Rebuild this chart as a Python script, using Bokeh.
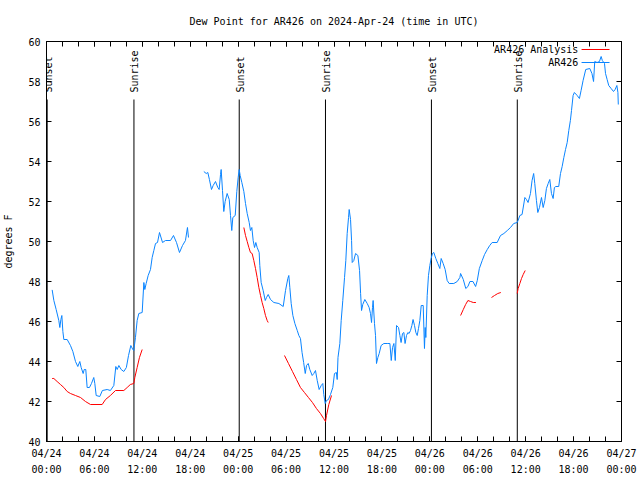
import numpy as np
import pandas as pd
from math import pi
from bokeh.plotting import figure
from bokeh.models import (FixedTicker, DatetimeTickFormatter, LinearAxis, DatetimeAxis,
                          Range1d)
from bokeh.embed import file_html
from bokeh.resources import INLINE
from bokeh.core.properties import value

# ---------------- data ----------------
start_time = "2024-04-24 00:00"
end_time = "2024-04-27 00:00"

# AR426 observations: hours after start, dew point (F); NaN = gap
ar426_hours = [
    0.71, 0.92, 1.21, 1.54, 1.67, 1.8, 1.92, 2.05, 2.17, 2.59, 3.0, 3.3, 3.63, 3.92, 4.17,
    4.34, 4.59, 4.72, 4.92, 5.09, 5.38, 5.63, 5.92, 6.05, 6.22, 6.67, 7.0, 7.6, 8.0, 8.43,
    8.68, 8.85, 9.06, 9.35, 9.68, 10.0, 10.27, 10.56, 10.81, 10.93, 11.14, 11.35, 11.56,
    11.98, 12.19, 12.31, 12.48, 12.73, 13.02, 13.23, 13.44, 13.65, 13.9, 14.15, 14.53,
    14.9, 15.53, 15.9, 16.28, 16.65, 17.03, 17.4, 17.65, 17.78,
    18.7,
    19.7, 20.0, 20.2, 20.4, 20.66, 20.87, 21.16, 21.45, 21.62, 21.79, 21.87, 22.04, 22.2,
    22.37, 22.62, 22.88, 23.04, 23.2, 23.33, 23.63, 23.83, 24.0, 24.13, 24.25, 24.46,
    24.71, 24.92, 25.13, 25.38, 25.54, 25.71, 25.88, 26.05, 26.21, 26.38, 26.63, 26.71,
    26.88, 27.13, 27.39, 27.55, 27.76, 28.05, 28.47, 29.1, 29.64, 29.93, 30.22, 30.34,
    30.47, 30.64, 30.85, 31.1, 31.4, 31.6, 31.8, 32.0, 32.2, 32.4, 32.56, 32.77, 32.97,
    33.27, 33.47, 33.68, 33.9, 34.14, 34.4, 34.6, 34.72, 34.9, 35.06, 35.3, 35.56, 35.85,
    36.06, 36.3, 36.4, 36.5, 36.73, 36.9, 37.1, 37.32, 37.48, 37.65, 37.82, 37.9, 38.07,
    38.2, 38.28, 38.48, 38.7, 38.99, 39.2, 39.33, 39.45, 39.6, 39.86, 40.16, 40.4, 40.57,
    40.7, 40.82, 40.9, 41.07, 41.2, 41.32, 41.49, 41.66, 41.9, 42.24, 42.66, 43.0, 43.17,
    43.33, 43.5, 43.67, 43.83, 44.08, 44.25, 44.4, 44.58, 44.75, 44.9, 45.08, 45.25, 45.4,
    45.58, 45.75, 45.9, 46.08, 46.25, 46.42, 46.58, 46.75, 46.92, 47.17, 47.33, 47.42,
    47.5, 47.67, 47.83, 48.0, 48.16, 48.33, 48.5, 48.75, 49.0, 49.25, 49.42, 49.67, 49.92,
    50.17, 50.42, 51.0, 51.43, 51.76, 51.85, 52.19, 52.5, 52.77, 53.02, 53.4, 53.73,
    53.94, 54.2, 54.56, 54.85, 55.19, 55.5, 55.8, 56.43, 56.85, 57.27, 57.7, 58.1, 58.5,
    58.94, 59.05, 59.27, 59.55, 59.9, 60.1, 60.3, 60.6, 60.8, 61.0, 61.14, 61.35, 61.52,
    61.73, 61.98, 62.19, 62.4, 62.6, 62.82, 63.02, 63.23, 63.44, 63.6, 63.77, 64.14,
    64.36, 64.57, 64.78, 64.99, 65.2, 65.4, 65.6, 65.74, 65.94, 66.1, 66.45, 66.73, 66.94,
    67.19, 67.52, 68.03, 68.3, 68.5, 68.65, 68.94, 69.24, 69.45, 69.6, 69.87, 70.0, 70.2,
    70.4, 70.7, 71.0, 71.2, 71.42, 71.55, 71.6,
]
ar426_dewpt = [
    47.58, 47.05, 46.6, 46.05, 45.7, 46.1, 46.3, 45.5, 45.1, 45.1, 44.8, 44.5, 44.0, 43.75,
    44.0, 43.7, 43.4, 43.6, 43.6, 42.7, 42.7, 42.9, 43.2, 42.9, 42.3, 42.25, 42.55, 42.6,
    42.55, 42.8, 43.75, 43.6, 43.8, 43.6, 43.5, 43.7, 44.3, 44.8, 44.6, 44.55, 45.2, 46.05,
    46.4, 46.45, 47.95, 47.6, 47.9, 48.3, 48.6, 49.2, 49.55, 49.9, 49.95, 50.45, 49.95,
    50.05, 50.05, 50.3, 49.95, 49.45, 49.8, 50.05, 50.7, 50.2,
    float("nan"),
    53.5, 53.4, 53.45, 53.1, 52.6, 52.8, 53.0, 52.7, 52.6, 53.35, 53.6, 52.55, 51.5, 52.0,
    52.4, 52.1, 51.3, 50.55, 51.2, 51.3, 52.5, 53.2, 53.6, 53.3, 52.95, 52.5, 51.9, 51.4,
    50.95, 50.55, 50.7, 50.05, 49.7, 49.95, 49.7, 49.45, 48.8, 47.95, 47.55, 47.05, 47.2,
    47.35, 47.1, 46.95, 46.9, 46.75, 47.55, 48.15, 48.3, 47.7, 46.9, 46.3, 45.9, 45.55,
    45.3, 45.15, 44.45, 43.95, 43.4, 43.8, 43.9, 43.6, 43.3, 43.4, 43.55, 43.05, 42.6,
    42.8, 42.9, 42.35, 41.9, 42.05, 42.1, 42.35, 42.7, 43.4, 43.45, 43.1, 44.2, 44.9,
    46.05, 47.05, 48.2, 49.05, 50.4, 51.2, 51.6, 51.1, 50.05, 48.95, 49.05, 49.4, 49.3,
    48.55, 47.4, 46.55, 46.85, 47.1, 46.9, 46.7, 46.4, 45.95, 46.7, 47.05, 45.9, 45.3,
    43.9, 44.2, 44.4, 44.8, 44.9, 44.9, 44.9, 44.05, 44.7, 44.9, 44.05, 45.8, 45.7, 45.3,
    44.95, 45.4, 45.45, 44.9, 45.3, 45.45, 45.4, 45.55, 45.8, 46.1, 45.8, 45.45, 45.3,
    45.65, 46.05, 46.8, 46.8, 44.65, 45.7, 45.2, 47.3, 48.3, 48.8, 49.15, 49.4, 49.45,
    49.15, 48.9, 48.65, 49.15, 48.9, 48.6, 48.05, 47.9, 47.9, 48.0, 48.2, 48.4, 48.1,
    47.65, 47.75, 48.0, 48.0, 47.75, 48.05, 48.65, 49.05, 49.35, 49.6, 49.8, 49.95, 49.95,
    50.3, 50.4, 50.55, 50.7, 50.9, 50.95, 51.05, 51.3, 51.35, 52.2, 52.1, 51.95, 52.4,
    53.05, 53.4, 52.9, 52.05, 51.45, 51.7, 52.2, 51.7, 52.05, 52.65, 52.9, 53.1, 52.4,
    52.15, 52.7, 52.75, 52.75, 53.4, 53.75, 54.2, 54.6, 54.95, 55.55, 56.05, 56.55, 57.3,
    57.45, 57.3, 57.15, 57.55, 58.05, 58.6, 58.65, 58.4, 58.0, 59.0, 58.95, 59.0, 59.25,
    59.05, 58.9, 58.4, 58.1, 57.8, 57.65, 57.5, 57.6, 57.8, 57.45, 56.85,
]

# AR426 Analysis: hours after start, dew point (F); NaN = gap
analysis_hours = [
    0.71, 0.92, 1.33, 1.75, 2.17, 2.59, 3.0, 3.63, 4.26, 4.88, 5.51, 6.97, 7.39, 8.0,
    8.64, 9.68, 10.1, 10.5, 10.93, 11.06, 11.35, 11.64, 11.98,
    18.0,
    24.71, 24.92, 25.13, 25.34, 25.54, 25.75, 25.96, 26.17, 26.38, 26.59, 26.8, 27.0,
    27.21, 27.42, 27.63, 27.76,
    28.5,
    29.8, 30.3, 30.8, 31.3, 31.8, 32.3, 32.8, 33.3, 33.8, 34.3, 34.7, 34.94, 35.06,
    35.35, 35.69,
    44.0,
    51.85, 52.19, 52.48, 52.77, 53.1, 53.44, 53.77,
    54.5,
    55.72, 56.1, 56.51, 56.89,
    58.0,
    58.94, 59.06, 59.27, 59.48, 59.69, 59.94,
]
analysis_dewpt = [
    43.15, 43.15, 43.0, 42.85, 42.7, 42.5, 42.4, 42.3, 42.2, 42.0, 41.85, 41.85, 42.1,
    42.3, 42.55, 42.55, 42.7, 42.85, 42.9, 43.2, 43.7, 44.2, 44.6,
    float("nan"),
    50.7, 50.3, 50.0, 49.7, 49.45, 49.4, 49.05, 48.65, 48.2, 47.7, 47.3, 46.95, 46.65,
    46.3, 46.05, 45.95,
    float("nan"),
    44.3, 43.9, 43.5, 43.1, 42.7, 42.45, 42.2, 41.95, 41.65, 41.4, 41.15, 41.0, 41.3,
    41.85, 42.3,
    float("nan"),
    46.3, 46.6, 46.85, 47.05, 47.0, 46.95, 46.95,
    float("nan"),
    47.2, 47.3, 47.4, 47.45,
    float("nan"),
    47.4, 47.65, 47.9, 48.15, 48.35, 48.55,
]

sun_event_times = ["2024-04-24 00:05", "2024-04-24 10:57", "2024-04-25 00:08",
                   "2024-04-25 10:56", "2024-04-26 00:12", "2024-04-26 10:57"]
sun_event_labels = ["Sunset", "Sunrise", "Sunset", "Sunrise", "Sunset", "Sunrise"]

y_ticks = [40, 42, 44, 46, 48, 50, 52, 54, 56, 58, 60]
x_major_step_hours = 6
x_minor_step_hours = 2

# ---------------- helpers ----------------
t0 = pd.Timestamp(start_time)
t1 = pd.Timestamp(end_time)
ms0 = t0.value / 1e6
ms1 = t1.value / 1e6
HOUR = 3600e3

def hours_to_ms(h):
    return ms0 + np.asarray(h, dtype=float) * HOUR

FONT = "DejaVu Sans Mono"
BLUE = "#0a84ff"
RED = "#ff0000"

p = figure(width=640, height=480, x_axis_type="datetime",
           x_range=Range1d(ms0, ms1), y_range=Range1d(40, 60),
           output_backend="svg", toolbar_location=None,
           min_border_left=46, min_border_right=19, min_border_top=41,
           min_border_bottom=39)

p.title.text = "Dew Point for AR426 on 2024-Apr-24 (time in UTC)"
p.title.align = "center"
p.title.vertical_align = "top"
p.title.text_font = FONT
p.title.text_font_size = "10px"
p.title.text_font_style = "normal"
p.title.text_color = "black"
p.title.standoff = 26

p.xgrid.visible = False
p.ygrid.visible = False
p.outline_line_color = "black"
p.outline_line_width = 1
p.background_fill_color = "white"
p.border_fill_color = "white"

major_x = [ms0 + h * HOUR for h in range(0, 73, x_major_step_hours)]
minor_x = [ms0 + h * HOUR for h in range(0, 73, x_minor_step_hours)]
xticker = FixedTicker(ticks=major_x, minor_ticks=minor_x)
yticker = FixedTicker(ticks=y_ticks, minor_ticks=[])

fmt = "%m/%d\n%H:%M"
xfmt = DatetimeTickFormatter(milliseconds=fmt, seconds=fmt, minsec=fmt, minutes=fmt,
                             hourmin=fmt, hours=fmt, days=fmt, months=fmt, years=fmt,
                             context=None)

def style_axis(ax, labels=True):
    ax.axis_line_color = None
    ax.major_tick_in = 5
    ax.major_tick_out = 0
    ax.minor_tick_in = 5
    ax.minor_tick_out = 0
    ax.major_tick_line_color = "black"
    ax.minor_tick_line_color = "black"
    ax.major_label_text_font = FONT
    if labels:
        ax.major_label_text_font_size = "10px"
        ax.major_label_text_color = "black"
    else:
        ax.major_label_text_font_size = "1px"
        ax.major_label_text_color = None
        ax.major_label_standoff = 0

xa = p.xaxis[0]
xa.ticker = xticker
xa.formatter = xfmt
style_axis(xa)
xa.major_label_standoff = 6
xa.major_label_text_line_height = 1.5

ya = p.yaxis[0]
ya.ticker = yticker
style_axis(ya)
ya.major_label_standoff = 6
ya.axis_label = "degrees F"
ya.axis_label_text_font = FONT
ya.axis_label_text_font_size = "10px"
ya.axis_label_text_font_style = "normal"
ya.axis_label_text_color = "black"
ya.axis_label_standoff = 11

top = DatetimeAxis(ticker=xticker, formatter=xfmt)
style_axis(top, labels=False)
p.add_layout(top, "above")

right = LinearAxis(ticker=yticker)
style_axis(right, labels=False)
p.add_layout(right, "right")

# sunrise / sunset markers
ev_ms = [pd.Timestamp(s).value / 1e6 for s in sun_event_times]
p.segment(x0=ev_ms, y0=[40] * len(ev_ms), x1=ev_ms, y1=[57.1] * len(ev_ms),
          line_color="black", line_width=1)
p.text(x=ev_ms, y=[57.45] * len(ev_ms), text=sun_event_labels, angle=pi / 2,
       text_align="left", text_baseline="middle", text_font=value(FONT),
       text_font_size="10px", text_color="black", x_offset=1)

# series
p.line(hours_to_ms(analysis_hours), analysis_dewpt, line_color=RED, line_width=1)
p.line(hours_to_ms(ar426_hours), ar426_dewpt, line_color=BLUE, line_width=1)

# key (top right)
key_text_h = 66.6
key_line_h0 = 67.0
key_line_h1 = 70.5
key_y = [59.6, 58.95]
p.text(x=[hours_to_ms(key_text_h)] * 2, y=key_y, text=["AR426 Analysis", "AR426"],
       text_align="right", text_baseline="middle", text_font=value(FONT),
       text_font_size="10px", text_color="black")
p.segment(x0=[hours_to_ms(key_line_h0)] * 2, y0=key_y,
          x1=[hours_to_ms(key_line_h1)] * 2, y1=key_y,
          line_color=[RED, BLUE], line_width=1)

open("out.html", "w").write(file_html(p, INLINE))
